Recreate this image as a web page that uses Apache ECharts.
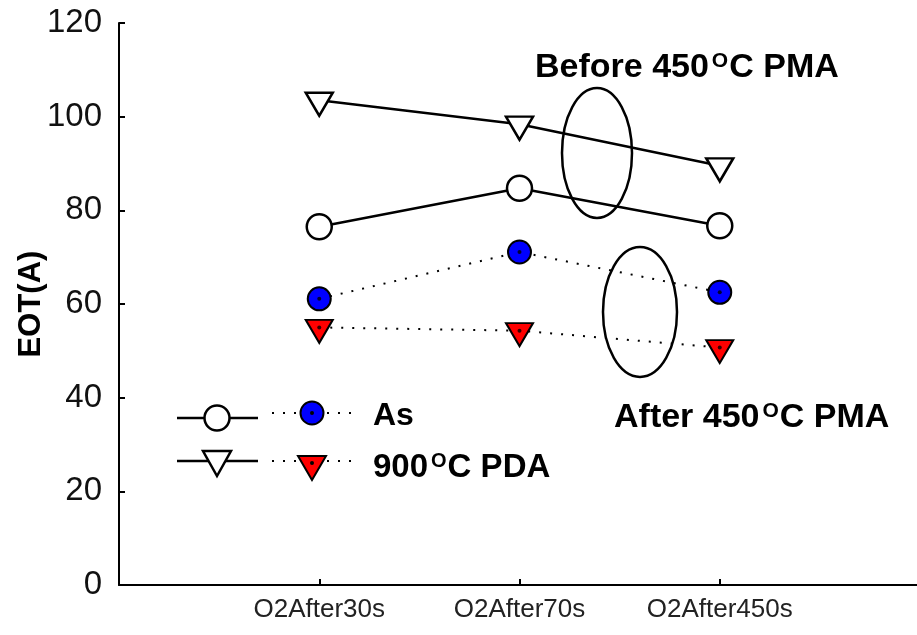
<!DOCTYPE html>
<html><head><meta charset="utf-8">
<script src="https://cdn.jsdelivr.net/npm/echarts@6/dist/echarts.min.js"></script>
<style>html,body{margin:0;padding:0;background:#fff}#c{width:917px;height:635px}</style>
</head><body><div id="c"></div>
<script>
// ---- data ----
const categories = ['O2After30s', 'O2After70s', 'O2After450s'];
const beforeAs  = [76.5, 84.7, 76.7];   // open circles, solid line
const beforePDA = [103.5, 98.4, 89.5];  // open down-triangles, solid line
const afterAs   = [61.1, 71.1, 62.5];   // blue circles, dotted line
const afterPDA  = [55.0, 54.3, 50.7];   // red down-triangles, dotted line
const yMin = 0, yMax = 120, yStep = 20;
const yName = 'EOT(A)';
const legendLabels = ['As', '900', 'C PDA'];
const noteBefore = ['Before 450', 'C PMA'];
const noteAfter = ['After 450', 'C PMA'];

const FONT = '"Liberation Sans", Arial, sans-serif';
const toXY = arr => arr.map((v, i) => [i + 1, v]);

const chart = echarts.init(document.getElementById('c'), null, {renderer: 'canvas'});

const solidLine = {color: '#000', width: 2.5, type: 'solid'};
const dotLine = {color: '#000', width: 2, type: [2, 9]};

const series = [
  {
    name: 'beforePDA', type: 'line', data: toXY(beforePDA),
    symbol: 'triangle', symbolRotate: 180, symbolSize: [27, 23], symbolOffset: [0, 4],
    itemStyle: {color: '#fff', borderColor: '#000', borderWidth: 2.5},
    lineStyle: solidLine, z: 3
  },
  {
    name: 'beforeAs', type: 'line', data: toXY(beforeAs),
    symbol: 'circle', symbolSize: 25,
    itemStyle: {color: '#fff', borderColor: '#000', borderWidth: 2.5},
    lineStyle: solidLine, z: 3
  },
  {
    name: 'afterAs', type: 'line', data: toXY(afterAs),
    symbol: 'circle', symbolSize: 23,
    itemStyle: {color: '#0000ff', borderColor: '#000', borderWidth: 2},
    lineStyle: dotLine, z: 3
  },
  {
    name: 'afterPDA', type: 'line', data: toXY(afterPDA),
    symbol: 'triangle', symbolRotate: 180, symbolSize: [27, 23], symbolOffset: [0, 4],
    itemStyle: {color: '#ff0000', borderColor: '#000', borderWidth: 2},
    lineStyle: dotLine, z: 3
  },
  {
    name: 'dots', type: 'scatter', data: toXY(afterAs).concat(toXY(afterPDA)),
    symbol: 'circle', symbolSize: 4, itemStyle: {color: '#000'}, z: 5, silent: true
  }
];

const supRich = (size) => ({
  b: {fontSize: size, fontWeight: 'bold', fontFamily: FONT, color: '#000', lineHeight: size},
  s: {fontSize: Math.round(size * 0.62), fontWeight: 'bold', fontFamily: FONT, color: '#000',
      verticalAlign: 'top', lineHeight: Math.round(size * 0.62), padding: [0, 1, 0, 3]}
});

const graphic = [
  // ellipses
  {type: 'ellipse', shape: {cx: 597, cy: 153, rx: 35, ry: 65},
   style: {fill: 'none', stroke: '#000', lineWidth: 2.5}, z: 10},
  {type: 'ellipse', shape: {cx: 640, cy: 312, rx: 37, ry: 65},
   style: {fill: 'none', stroke: '#000', lineWidth: 2.5}, z: 10},
  // annotations
  {type: 'text', x: 535, y: 68, z: 10,
   style: {text: '{b|' + noteBefore[0] + '}{s|O}{b|' + noteBefore[1] + '}', rich: supRich(34),
           align: 'left', verticalAlign: 'middle'}},
  {type: 'text', x: 614, y: 418, z: 10,
   style: {text: '{b|' + noteAfter[0] + '}{s|O}{b|' + noteAfter[1] + '}', rich: supRich(34),
           align: 'left', verticalAlign: 'middle'}},
  // legend row 1
  {type: 'line', shape: {x1: 177, y1: 418, x2: 258, y2: 418}, style: {stroke: '#000', lineWidth: 2.5}, z: 10},
  {type: 'circle', shape: {cx: 217, cy: 418, r: 12.5}, style: {fill: '#fff', stroke: '#000', lineWidth: 2.5}, z: 11},
  {type: 'line', shape: {x1: 272, y1: 413, x2: 352, y2: 413}, style: {stroke: '#000', lineWidth: 2, lineDash: [2, 9]}, z: 10},
  {type: 'circle', shape: {cx: 312, cy: 413, r: 11.5}, style: {fill: '#0000ff', stroke: '#000', lineWidth: 2}, z: 11},
  {type: 'circle', shape: {cx: 312, cy: 413, r: 2}, style: {fill: '#000'}, z: 12},
  {type: 'text', x: 373, y: 416, z: 10,
   style: {text: legendLabels[0], fontSize: 32, fontWeight: 'bold', fontFamily: FONT, fill: '#000',
           align: 'left', verticalAlign: 'middle'}},
  // legend row 2
  {type: 'line', shape: {x1: 177, y1: 461, x2: 258, y2: 461}, style: {stroke: '#000', lineWidth: 2.5}, z: 10},
  {type: 'polygon', shape: {points: [[203, 451], [231, 451], [217, 476]]}, style: {fill: '#fff', stroke: '#000', lineWidth: 2.5}, z: 11},
  {type: 'line', shape: {x1: 272, y1: 461, x2: 352, y2: 461}, style: {stroke: '#000', lineWidth: 2, lineDash: [2, 9]}, z: 10},
  {type: 'polygon', shape: {points: [[298, 456], [326, 456], [312, 480]]}, style: {fill: '#ff0000', stroke: '#000', lineWidth: 2}, z: 11},
  {type: 'circle', shape: {cx: 312, cy: 463, r: 2}, style: {fill: '#000'}, z: 12},
  {type: 'text', x: 373, y: 468, z: 10,
   style: {text: '{b|' + legendLabels[1] + '}{s|O}{b|' + legendLabels[2] + '}', rich: supRich(33),
           align: 'left', verticalAlign: 'middle'}}
];

chart.setOption({
  animation: false,
  backgroundColor: '#fff',
  grid: {left: 119, right: -3, top: 23, bottom: 50, containLabel: false, outerBoundsMode: 'none'},
  xAxis: {
    type: 'value', min: 0, max: 4, interval: 1,
    axisLine: {show: true, onZero: false, lineStyle: {color: '#000', width: 2}},
    axisTick: {show: true, inside: true, length: 6, lineStyle: {color: '#000', width: 2}},
    splitLine: {show: false},
    axisLabel: {
      fontSize: 26, fontFamily: FONT, color: '#222', margin: 12,
      showMinLabel: false, showMaxLabel: false,
      formatter: v => categories[v - 1] || ''
    }
  },
  yAxis: {
    type: 'value', min: yMin, max: yMax, interval: yStep,
    name: yName, nameLocation: 'middle', nameGap: 72, nameMoveOverlap: false,
    nameTextStyle: {fontSize: 31, fontWeight: 'bold', fontFamily: FONT, color: '#000'},
    axisLine: {show: true, lineStyle: {color: '#000', width: 2}},
    axisTick: {show: true, inside: true, length: 6, lineStyle: {color: '#000', width: 2}},
    splitLine: {show: false},
    axisLabel: {fontSize: 33, fontFamily: FONT, color: '#111', margin: 17}
  },
  series: series,
  graphic: graphic
});
</script>
</body></html>
